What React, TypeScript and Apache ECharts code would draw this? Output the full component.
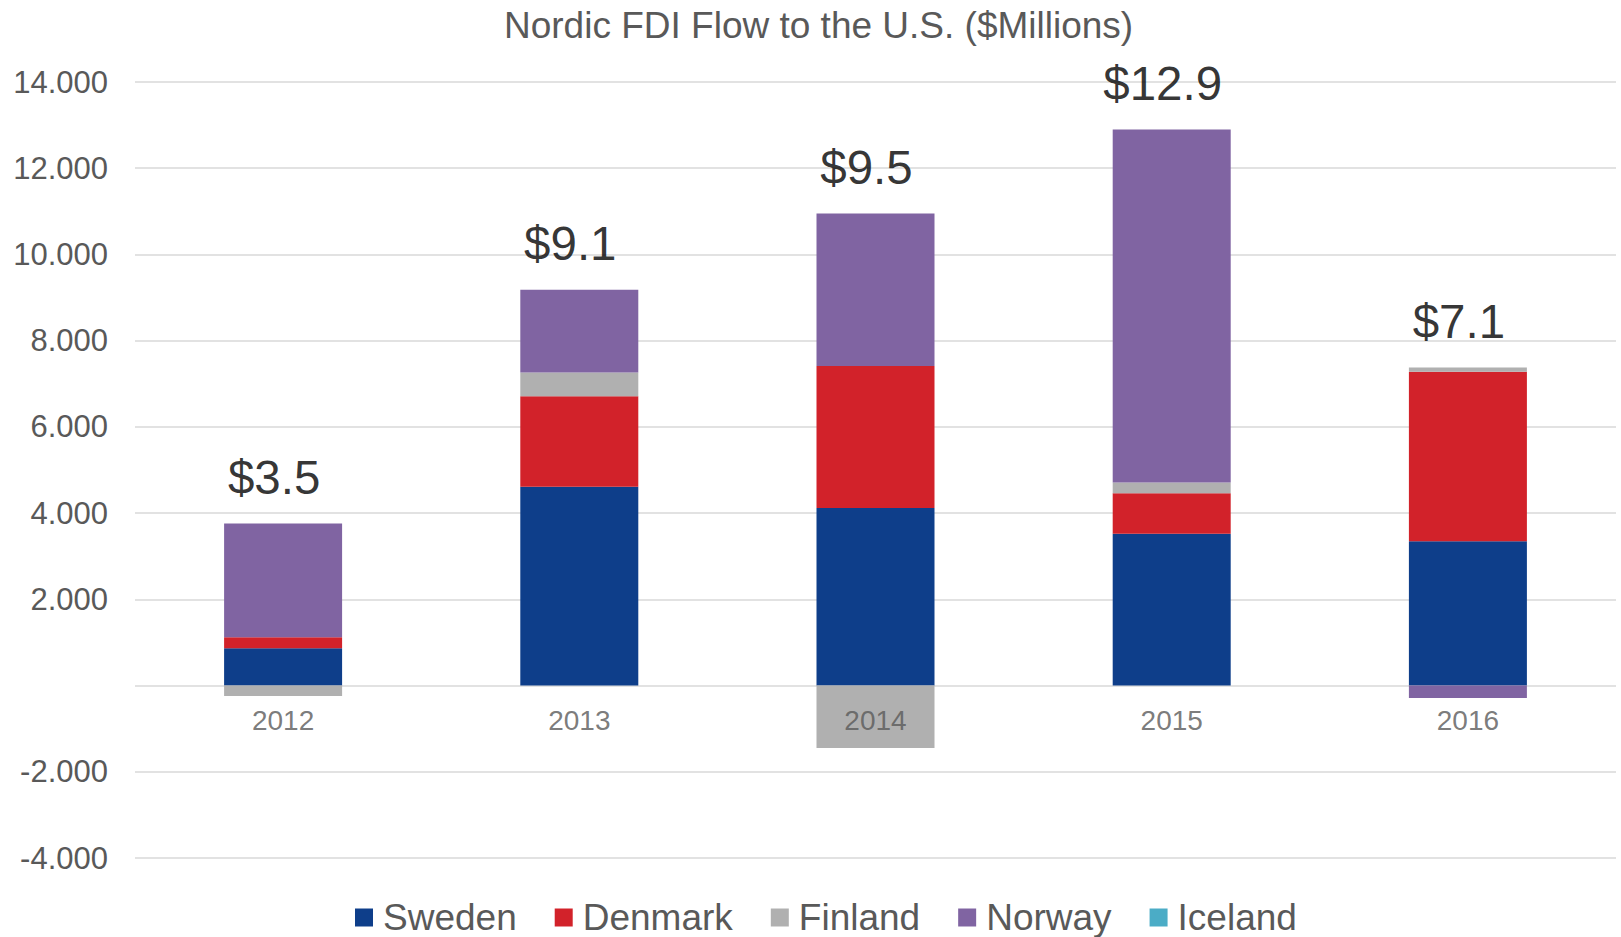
import React, { useEffect, useRef } from "react";
import * as echarts from "echarts";

const years = ["2012", "2013", "2014", "2015", "2016"];
const sweden = [865, 4610, 4120, 3520, 3350];
const denmark = [255, 2100, 3290, 940, 3930];
const finland = [-240, 550, -1450, 250, 95];
const norway = [2640, 1920, 3540, 8190, -290];
const iceland = [0, 0, 0, 0, 0];
const totalLabels = ["$3.5", "$9.1", "$9.5", "$12.9", "$7.1"];

const seriesNames = ["Sweden", "Denmark", "Finland", "Norway", "Iceland"];
const seriesColors = ["#0E3E8A", "#D2222A", "#B0B0B0", "#8064A2", "#4BACC6"];

const FONT = "'Liberation Sans', Arial, sans-serif";

export default function App() {
  const ref = useRef<HTMLDivElement>(null);

  useEffect(() => {
    if (!ref.current) return;
    const chart = echarts.init(ref.current, null, { renderer: "svg" });
    const allData = [sweden, denmark, finland, norway, iceland];
    const positiveTops = years.map((_, i) =>
      allData.reduce((s, arr) => s + (arr[i] > 0 ? arr[i] : 0), 0)
    );
    const zeros = years.map(() => 0);

    const barSeries = allData.map((arr, k) => ({
      name: seriesNames[k],
      type: "bar",
      stack: "total",
      barWidth: 118,
      data: arr,
      itemStyle: { color: seriesColors[k] },
      emphasis: { disabled: true },
    }));

    chart.setOption({
      animation: false,
      textStyle: { fontFamily: FONT },
      title: {
        text: "Nordic FDI Flow to the U.S. ($Millions)",
        left: 499,
        top: 2,
        textStyle: {
          fontFamily: FONT,
          fontSize: 37,
          fontWeight: "normal",
          color: "#595959",
        },
      },
      legend: {
        data: seriesNames,
        left: 350,
        top: 894,
        icon: "rect",
        itemWidth: 18,
        itemHeight: 18,
        itemGap: 38,
        textStyle: {
          fontFamily: FONT,
          fontSize: 37,
          color: "#595959",
          padding: [0, 0, 0, 5],
        },
      },
      grid: { left: 135, right: 5, top: 82, bottom: 79, containLabel: false },
      xAxis: {
        type: "category",
        data: years,
        axisLine: { show: false },
        axisTick: { show: false },
        axisLabel: { show: false },
        splitLine: { show: false },
      },
      yAxis: {
        type: "value",
        min: -4000,
        max: 14000,
        interval: 2000,
        axisLine: { show: false },
        axisTick: { show: false },
        axisLabel: {
          fontFamily: FONT,
          fontSize: 31,
          color: "#595959",
          margin: 27,
          formatter: (v: number) => {
            if (v === 0) return "";
            const neg = v < 0;
            const a = Math.abs(v);
            const s = String(a).replace(/\B(?=(\d{3})+(?!\d))/g, ".");
            return (neg ? "-" : "") + s;
          },
        },
        splitLine: { lineStyle: { color: "#d9d9d9", width: 1.5 } },
      },
      series: [
        ...barSeries,
        {
          name: "totals",
          type: "scatter",
          data: positiveTops,
          symbolSize: 0,
          silent: true,
          z: 20,
          label: {
            show: true,
            position: "top",
            distance: 22,
            offset: [-9, 0],
            fontFamily: FONT,
            fontSize: 47.5,
            color: "#000000",
            formatter: (p: any) => totalLabels[p.dataIndex],
          },
        },
        {
          name: "categoryLabels",
          type: "scatter",
          data: zeros,
          symbolSize: 0,
          silent: true,
          z: 20,
          label: {
            show: true,
            position: "bottom",
            distance: 21,
            fontFamily: FONT,
            fontSize: 28,
            color: "#595959",
            formatter: (p: any) => years[p.dataIndex],
          },
        },
      ],
    });
    return () => chart.dispose();
  }, []);

  return (
    <div
      ref={ref}
      style={{ position: "absolute", left: 0, top: 0, width: 1621, height: 937, background: "#fff" }}
    />
  );
}
